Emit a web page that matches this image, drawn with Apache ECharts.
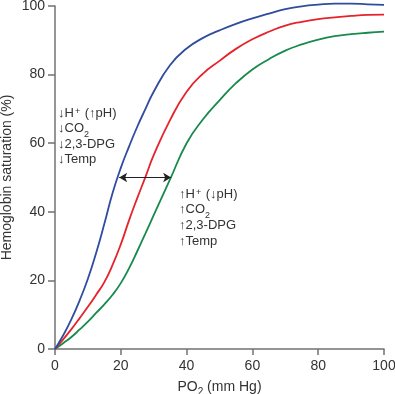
<!DOCTYPE html>
<html><head><meta charset="utf-8">
<script src="https://cdn.jsdelivr.net/npm/echarts@6/dist/echarts.min.js"></script>
<style>html,body{margin:0;padding:0;background:#fff}#c{width:395px;height:394px}</style>
</head><body><div id="c"></div>
<script>
// PO2 (mm Hg) sample points
const po2 = [0,2.5,5,7.5,10,12.5,15,17.5,20,22.5,25,27.5,30,35,40,45,50,55,60,65,70,75,80,85,90,95,100];
// left-shifted curve (↓H+, ↓CO2, ↓2,3-DPG, ↓Temp)
const satLeft = [0,4,8.7,14.2,20.5,28,36.5,45.5,52.8,59,64.8,70,75,82.8,87.6,90.7,92.9,94.8,96.4,97.8,99.1,99.9,100.4,100.7,100.7,100.5,100.3];
// normal curve
const satNormal = [0,2.8,5.8,9,12.3,15.8,19.5,24.5,30.5,37.5,44,50.2,56.5,66.8,75,80.3,84,87.5,90.3,92.5,94.3,95.4,96.2,96.7,97.1,97.4,97.5];
// right-shifted curve (↑H+, ↑CO2, ↑2,3-DPG, ↑Temp)
const satRight = [0,1.7,3.5,5.7,8,10.5,13,15.8,19.2,23.5,28.5,33.7,39,49.5,60,67,72.5,77.5,81.5,84.5,87,88.8,90.2,91.2,91.8,92.2,92.5];
const xTicks = [0,20,40,60,80,100];
const yTicks = [0,20,40,60,80,100];
// P50 shift arrow
const arrowSat = 50;
const arrowFrom = 19.5;
const arrowTo = 35.3;

const FONT = '"Liberation Sans", Arial, Helvetica, sans-serif';
const TXT = '#333';
const pairs = arr => po2.map((x, i) => [x, arr[i]]);

const richBase = {
  m: {fontSize: 13, lineHeight: 16, verticalAlign: 'top', fill: TXT, fontFamily: FONT},
  sup: {fontSize: 9, lineHeight: 9, verticalAlign: 'top', fill: TXT, fontFamily: FONT, padding: [1, 1, 0, 1]},
  sub: {fontSize: 9, lineHeight: 9, verticalAlign: 'top', fill: TXT, fontFamily: FONT, padding: [8, 0, 0, 0]}
};
function txt(x, y, text) {
  return {type: 'text', x: x, y: y, z: 50,
    style: {text: text, rich: richBase, fill: TXT, font: '13px ' + FONT, align: 'left', verticalAlign: 'top'}};
}
const leftLines = ['{m|↓H}{sup|+}{m| (↑pH)}', '{m|↓CO}{sub|2}', '{m|↓2,3-DPG}', '{m|↓Temp}'];
const rightLines = ['{m|↑H}{sup|+}{m| (↓pH)}', '{m|↑CO}{sub|2}', '{m|↑2,3-DPG}', '{m|↑Temp}'];
const graphics = [];
leftLines.forEach((t, i) => graphics.push(txt(58, 106.5 + i * 15.6, t)));
rightLines.forEach((t, i) => graphics.push(txt(179, 187.5 + i * 15.8, t)));

const chart = echarts.init(document.getElementById('c'), null, {renderer: 'canvas'});
const axisLineStyle = {color: '#727272', width: 1.5};
chart.setOption({
  animation: false,
  backgroundColor: '#fff',
  grid: {left: 55, right: 11, top: 6, bottom: 45, containLabel: false, outerBoundsMode: 'none'},
  xAxis: {
    type: 'value', min: 0, max: 100, interval: 20,
    name: '{m|PO}{s|2}{m| (mm Hg)}', nameLocation: 'middle', nameGap: 31, nameMoveOverlap: false,
    nameTextStyle: {color: TXT, fontFamily: FONT, fontSize: 14,
      rich: {m: {fontSize: 14, lineHeight: 16, verticalAlign: 'top', color: TXT, fontFamily: FONT},
             s: {fontSize: 10, lineHeight: 10, verticalAlign: 'top', color: TXT, fontFamily: FONT, padding: [7, 0, 0, 0]}}},
    axisLine: {lineStyle: axisLineStyle},
    axisTick: {inside: false, length: 6, lineStyle: axisLineStyle},
    axisLabel: {color: TXT, fontFamily: FONT, fontSize: 14, margin: 10},
    splitLine: {show: false}
  },
  yAxis: {
    type: 'value', min: 0, max: 100, interval: 20,
    name: 'Hemoglobin saturation (%)', nameLocation: 'middle', nameGap: 41, nameMoveOverlap: false,
    nameTextStyle: {color: TXT, fontFamily: FONT, fontSize: 14},
    axisLine: {show: true, lineStyle: axisLineStyle},
    axisTick: {show: true, inside: false, length: 7, lineStyle: axisLineStyle},
    axisLabel: {color: TXT, fontFamily: FONT, fontSize: 14, margin: 10},
    splitLine: {show: false}
  },
  series: [
    {type: 'line', data: pairs(satRight), smooth: 0.5, showSymbol: false, clip: false, z: 3,
      lineStyle: {color: '#178a4c', width: 1.8}},
    {type: 'line', data: pairs(satNormal), smooth: 0.5, showSymbol: false, clip: false, z: 3,
      lineStyle: {color: '#e5232b', width: 1.8}},
    {type: 'line', data: pairs(satLeft), smooth: 0.5, showSymbol: false, clip: false, z: 3,
      lineStyle: {color: '#2f4c9e', width: 1.8}},
    {type: 'line', data: [], z: 2,
      markLine: {silent: true, symbol: ['arrow', 'arrow'], symbolSize: [7, 8],
        label: {show: false},
        lineStyle: {color: '#222', width: 1, type: 'solid'},
        data: [[{coord: [arrowFrom, arrowSat]}, {coord: [arrowTo, arrowSat]}]]}}
  ],
  graphic: graphics
});
</script></body></html>
